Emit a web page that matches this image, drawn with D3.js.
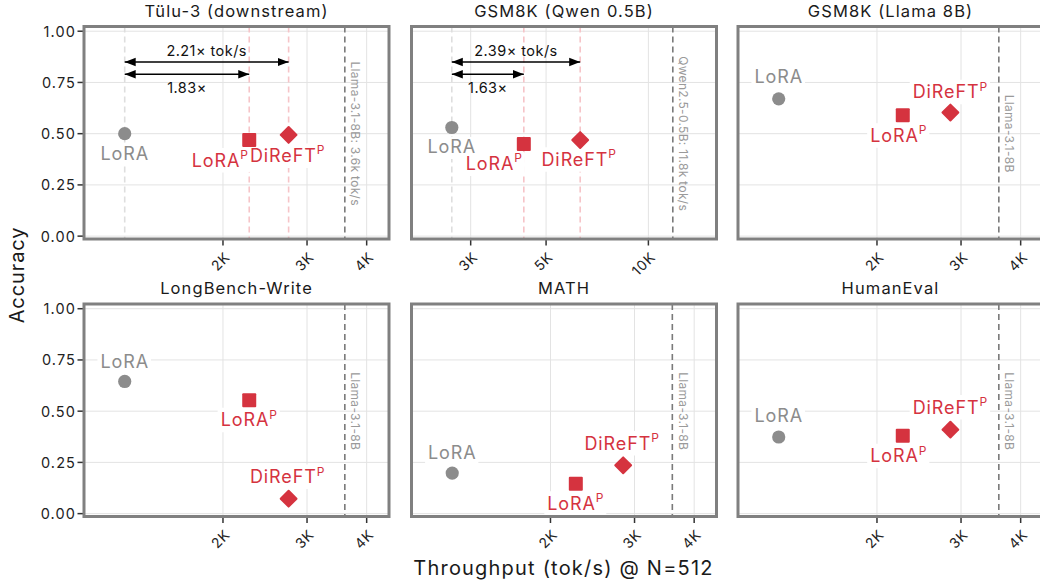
<!DOCTYPE html>
<html><head><meta charset="utf-8">
<script src="https://cdn.jsdelivr.net/npm/d3@7"></script>
<style>body{margin:0;background:#fff} svg{display:block;font-family:Inter,"DejaVu Sans",sans-serif}</style>
</head><body><svg id="chart" width="1040" height="588"></svg>
<script>
// ---------------- data ----------------
const panelTitles = ["Tülu-3 (downstream)", "GSM8K (Qwen 0.5B)", "GSM8K (Llama 8B)", "LongBench-Write", "MATH", "HumanEval"];
const methodNames = ["LoRA", "LoRA", "DiReFT"];
const methodSup = ["", "P", "P"];
const throughputLoRA   = [1245, 2640, 1245, 1245, 1245, 1245];
const throughputLoRAP  = [2270, 4300, 2265, 2270, 2260, 2265];
const throughputDiReFT = [2745, 6300, 2850, 2745, 2840, 2850];
const accuracyLoRA   = [0.50, 0.53, 0.67, 0.645, 0.198, 0.374];
const accuracyLoRAP  = [0.469, 0.45, 0.59, 0.553, 0.146, 0.38];
const accuracyDiReFT = [0.494, 0.469, 0.603, 0.073, 0.236, 0.41];
const baseThroughput = [3600, 11800, 3600, 3600, 3600, 3600];
const baseLabels = ["Llama-3.1-8B: 3.6k tok/s", "Qwen2.5-0.5B: 11.8k tok/s", "Llama-3.1-8B", "Llama-3.1-8B", "Llama-3.1-8B", "Llama-3.1-8B"];
const speedupDiReFTLabels = ["2.21× tok/s", "2.39× tok/s"];
const speedupLoRAPLabels = ["1.83×", "1.63×"];
const arrowLevels = [0.85, 0.79];
const xDomains = [[1023, 4455], [2009, 15864], [1023, 4455], [1023, 4455], [1023, 4455], [1023, 4455]];
const xTickValues = [[2000, 3000, 4000], [3000, 5000, 10000], [2000, 3000, 4000], [2000, 3000, 4000], [2000, 3000, 4000], [2000, 3000, 4000]];
const xTickLabels = [["2K", "3K", "4K"], ["3K", "5K", "10K"], ["2K", "3K", "4K"], ["2K", "3K", "4K"], ["2K", "3K", "4K"], ["2K", "3K", "4K"]];
const yDomain = [-0.014, 1.023];
const yTickValues = [0, 0.25, 0.5, 0.75, 1];
const yTickLabels = ["0.00", "0.25", "0.50", "0.75", "1.00"];
const xAxisTitle = "Throughput (tok/s) @ N=512";
const yAxisTitle = "Accuracy";

// label placement (pixel offsets: [dx, baseline dy]) per panel for LoRA, LoRA^P, DiReFT^P
const labelOffsets = [
  [[0, 26], [-29, 26.5], [-1, 27]],
  [[0, 25.6], [-29.5, 26], [-1, 25.7]],
  [[0, -15.4], [-4, 26.4], [0, -14.4]],
  [[0, -13.7], [0, 26], [-1, -15.6]],
  [[0, -14.4], [0, 26], [-1, -15.7]],
  [[0, -15], [-4, 26.4], [0, -16]]
];

// ---------------- layout ----------------
const svg = d3.select("#chart");
const panelLefts = [84, 411.5, 738], panelTops = [26.5, 304];
const panelW = 305, panelH = 212.5;
const RED = "#d5333f", GREY = "#8c8c8c";

const defs = svg.append("defs");
defs.append("marker").attr("id", "ah")
  .attr("markerUnits", "userSpaceOnUse").attr("markerWidth", 12).attr("markerHeight", 10)
  .attr("viewBox", "0 0 12 10").attr("refX", 11).attr("refY", 5)
  .attr("orient", "auto-start-reverse")
  .append("path").attr("d", "M0,0.8 L11,5 L0,9.2 Z").attr("fill", "#000");

for (let i = 0; i < 6; i++) {
  const col = i % 3, row = Math.floor(i / 3);
  const g = svg.append("g").attr("transform", `translate(${panelLefts[col]},${panelTops[row]})`);
  const x = d3.scaleLog().domain(xDomains[i]).range([0, panelW]);
  const y = d3.scaleLinear().domain(yDomain).range([panelH, 0]);

  // background + grid
  g.append("rect").attr("width", panelW).attr("height", panelH).attr("fill", "#fff");
  g.selectAll(".gy").data(yTickValues).join("line")
    .attr("x1", 0).attr("x2", panelW).attr("y1", d => y(d)).attr("y2", d => y(d))
    .attr("stroke", "#e3e3e3").attr("stroke-width", 1);
  g.selectAll(".gx").data(xTickValues[i]).join("line")
    .attr("y1", 0).attr("y2", panelH).attr("x1", d => x(d)).attr("x2", d => x(d))
    .attr("stroke", "#e3e3e3").attr("stroke-width", 1);

  const pts = [
    {x: throughputLoRA[i], y: accuracyLoRA[i], m: 0},
    {x: throughputLoRAP[i], y: accuracyLoRAP[i], m: 1},
    {x: throughputDiReFT[i], y: accuracyDiReFT[i], m: 2}
  ];

  // reference lines + speedup arrows in first two panels
  if (i < 2) {
    g.selectAll(".ref").data(pts).join("line")
      .attr("x1", d => x(d.x)).attr("x2", d => x(d.x)).attr("y1", 0).attr("y2", panelH)
      .attr("stroke", d => d.m === 0 ? "#dedede" : "#f6c4c8")
      .attr("stroke-width", 1.6).attr("stroke-dasharray", "6,4");
    const arr = [
      {to: throughputDiReFT[i], lev: arrowLevels[0], lab: speedupDiReFTLabels[i], dy: -6},
      {to: throughputLoRAP[i], lev: arrowLevels[1], lab: speedupLoRAPLabels[i], dy: 19}
    ];
    arr.forEach(a => {
      g.append("line").attr("x1", x(throughputLoRA[i])).attr("x2", x(a.to))
        .attr("y1", y(a.lev)).attr("y2", y(a.lev))
        .attr("stroke", "#000").attr("stroke-width", 1.5)
        .attr("marker-start", "url(#ah)").attr("marker-end", "url(#ah)");
      g.append("text").attr("x", (x(throughputLoRA[i]) + x(a.to)) / 2).attr("y", y(a.lev) + a.dy)
        .attr("text-anchor", "middle").attr("font-size", 14.5).attr("letter-spacing", 0.45)
        .attr("fill", "#111").text(a.lab);
    });
  }

  // base model throughput line
  const bx = x(baseThroughput[i]);
  g.append("line").attr("x1", bx).attr("x2", bx).attr("y1", 0).attr("y2", panelH)
    .attr("stroke", "#7a7a7a").attr("stroke-width", 1.6).attr("stroke-dasharray", "6,4");
  g.append("text").attr("transform", `translate(${bx + 11},${y(0.5)}) rotate(90)`)
    .attr("text-anchor", "middle").attr("dominant-baseline", "central")
    .attr("font-size", 12).attr("letter-spacing", 0.3).attr("fill", "#9a9a9a").text(baseLabels[i]);

  // label boxes (drawn first), then points, then label text
  const boxLayer = g.append("g"), pointLayer = g.append("g"), textLayer = g.append("g");

  pts.forEach(p => {
    const px = x(p.x), py = y(p.y);
    if (p.m === 0) pointLayer.append("circle").attr("cx", px).attr("cy", py).attr("r", 6.6).attr("fill", GREY);
    else if (p.m === 1) pointLayer.append("rect").attr("x", px - 7).attr("y", py - 7).attr("width", 14).attr("height", 14).attr("rx", 1).attr("fill", RED);
    else pointLayer.append("rect").attr("x", -6.6).attr("y", -6.6).attr("width", 13.2).attr("height", 13.2).attr("rx", 1)
      .attr("transform", `translate(${px},${py}) rotate(45)`).attr("fill", RED);
  });

  pts.forEach(p => {
    const off = labelOffsets[i][p.m];
    const t = textLayer.append("text").attr("x", x(p.x) + off[0]).attr("y", y(p.y) + off[1])
      .attr("text-anchor", "middle").attr("font-size", 18).attr("letter-spacing", 0.9)
      .attr("fill", p.m === 0 ? GREY : RED);
    t.append("tspan").text(methodNames[p.m]);
    if (methodSup[p.m]) t.append("tspan").attr("font-size", 12).attr("dy", -7.5).text(methodSup[p.m]);
    const bb = t.node().getBBox();
    boxLayer.append("rect").attr("x", bb.x - 3).attr("y", bb.y + 1).attr("width", bb.width + 5)
      .attr("height", bb.height + 1).attr("rx", 3).attr("fill", "#fff");
  });

  // x ticks
  xTickValues[i].forEach((t, k) => {
    g.append("line").attr("x1", x(t)).attr("x2", x(t)).attr("y1", panelH).attr("y2", panelH + 6.5)
      .attr("stroke", "#333").attr("stroke-width", 1.5);
    g.append("text").attr("transform", `translate(${x(t) + 8},${panelH + 19}) rotate(-45)`)
      .attr("text-anchor", "end").attr("font-size", 14).attr("letter-spacing", 0.8)
      .attr("fill", "#222").text(xTickLabels[i][k]);
  });
  // y ticks on left column
  if (col === 0) {
    yTickValues.forEach((t, k) => {
      g.append("line").attr("x1", -6.5).attr("x2", 0).attr("y1", y(t)).attr("y2", y(t))
        .attr("stroke", "#333").attr("stroke-width", 1.5);
      g.append("text").attr("x", -8).attr("y", y(t)).attr("dominant-baseline", "central")
        .attr("text-anchor", "end").attr("font-size", 14.5).attr("letter-spacing", 1.1)
        .attr("fill", "#222").text(yTickLabels[k]);
    });
  }

  // border
  g.append("rect").attr("width", panelW).attr("height", panelH).attr("fill", "none")
    .attr("stroke", "#808080").attr("stroke-width", 3);

  // title
  g.append("text").attr("x", panelW / 2).attr("y", -10).attr("text-anchor", "middle")
    .attr("font-size", 16.5).attr("letter-spacing", 1.1).attr("fill", "#1a1a1a").text(panelTitles[i]);
}

// axis titles
svg.append("text").attr("x", 563.5).attr("y", 575).attr("text-anchor", "middle")
  .attr("font-size", 20).attr("letter-spacing", 1.2).attr("fill", "#1a1a1a").text(xAxisTitle);
svg.append("text").attr("transform", "translate(24,275) rotate(-90)").attr("text-anchor", "middle")
  .attr("font-size", 20).attr("letter-spacing", 0.9).attr("fill", "#1a1a1a").text(yAxisTitle);
</script></body></html>
